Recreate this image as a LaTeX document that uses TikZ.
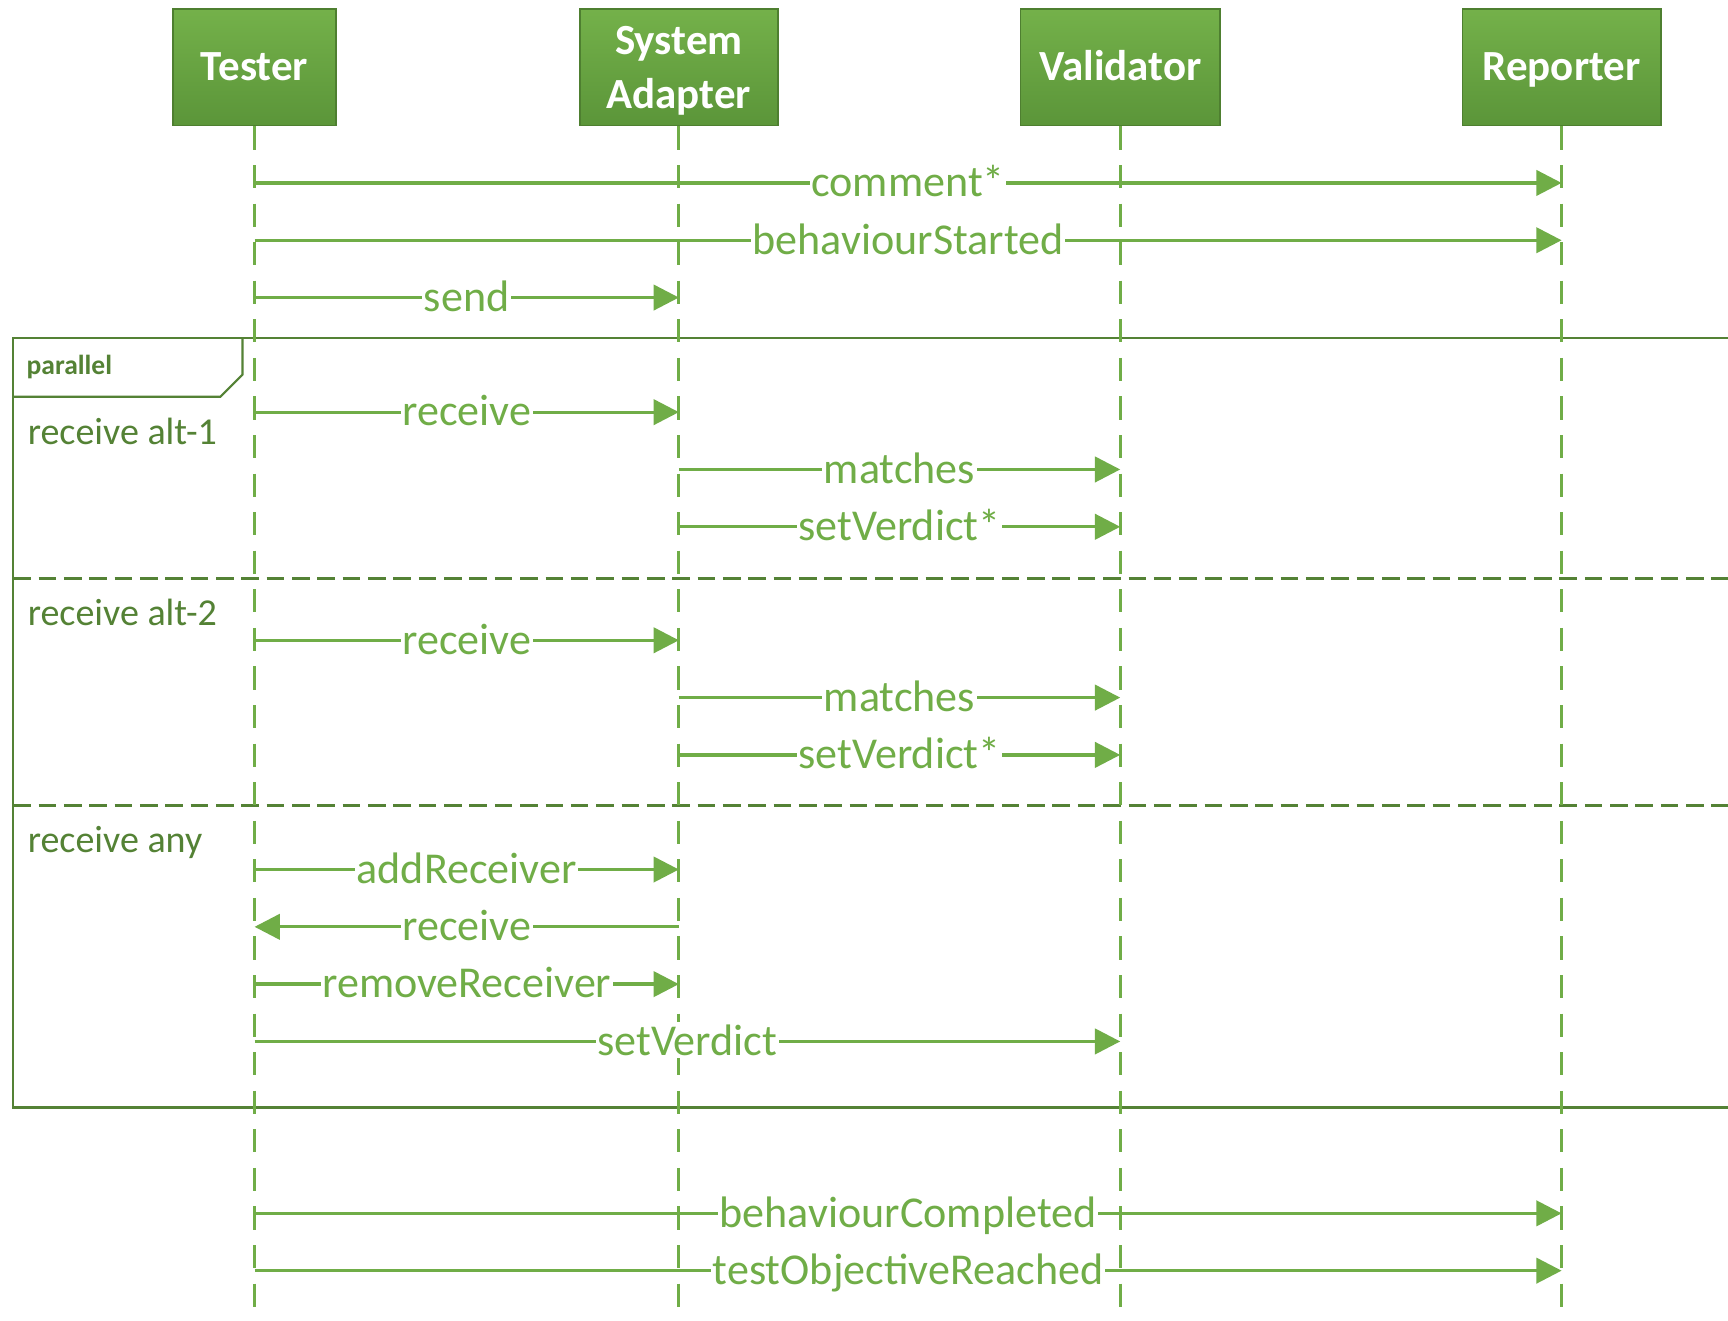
\documentclass[tikz,border=0pt]{standalone}
\usepackage{fontspec}
\setmainfont{Carlito}
\usetikzlibrary{arrows.meta}
\definecolor{msgc}{HTML}{70AD47}
\definecolor{framec}{HTML}{548235}
\definecolor{hdrA}{HTML}{74B14A}
\definecolor{hdrB}{HTML}{5B9539}
\definecolor{hdrline}{HTML}{4E7F30}
\begin{document}
\begin{tikzpicture}[x=1pt,y=-1pt,
  hdrbase/.style={draw=hdrline, line width=1.5pt, top color=hdrA, bottom color=hdrB,
    minimum height=106pt, inner sep=0pt, text=white,
    font=\fontsize{39}{49}\selectfont\bfseries, align=center},
  hdr/.style={hdrbase, text height=25pt, text depth=0pt},
  life/.style={draw=msgc, line width=2.5pt, dash pattern=on 21pt off 14pt},
  msg/.style={draw=msgc, line width=3pt, -{Triangle[length=23pt,width=23pt,fill=msgc]}},
  lbl/.style={midway, fill=white, text=msgc, inner xsep=1.5pt, inner ysep=2pt,
    anchor=base, yshift=-12.5pt, font=\fontsize{40}{48}\selectfont},
  frame/.style={draw=framec, line width=2pt},
  sep/.style={draw=framec, line width=2pt, dash pattern=on 16pt off 7pt},
  flbl/.style={text=framec, anchor=base west, inner sep=0pt, font=\fontsize{34.5}{40}\selectfont}
]
\useasboundingbox (0,0) rectangle (1568,1198);
\clip (0,0) rectangle (1568,1198);
\fill[white] (0,0) rectangle (1568,1198);

% combined fragment
\draw[frame] (12,307) rectangle (1590,1005);
\draw[frame] (12,360) -- (200,360) -- (220,340) -- (220,307);
\node[text=framec, anchor=base west, inner sep=0pt, font=\fontsize{25}{30}\selectfont\bfseries] (ptag) at (24,340) {parallel};
\coordinate (s1l) at (12,525); \coordinate (s1r) at (1590,525);
\coordinate (s2l) at (12,731); \coordinate (s2r) at (1590,731);
\draw[sep] (s1l) -- (s1r);
\draw[sep] (s2l) -- (s2r);
\node[flbl] (alt1) at (25,403) {receive alt-1};
\node[flbl] (alt2) at (25,568) {receive alt-2};
\node[flbl] (any) at (25,774) {receive any};

% lifeline heads
\node[hdr, minimum width=148pt] (te) at (231,61) {Tester};
\node[hdrbase, minimum width=180pt] (sa) at (616,61) {System\\\smash{Adapter}};
\node[hdr, minimum width=181pt] (val) at (1016.5,61) {Validator};
\node[hdr, minimum width=180pt] (rep) at (1417,61) {Reporter};

% lifelines
\coordinate (teE) at (231,1200);
\coordinate (saE) at (616,1200);
\coordinate (valE) at (1016.5,1200);
\coordinate (repE) at (1417,1200);
\draw[life] (te.south) -- (teE);
\draw[life] (sa.south) -- (saE);
\draw[life] (val.south) -- (valE);
\draw[life] (rep.south) -- (repE);

% messages
\foreach \y/\a/\b/\t in {166/te/rep/comment*, 218/te/rep/behaviourStarted, 270/te/sa/send,
  374/te/sa/receive, 426/sa/val/matches, 478/sa/val/setVerdict*,
  581/te/sa/receive, 633/sa/val/matches, 685/sa/val/setVerdict*,
  789/te/sa/addReceiver, 841/sa/te/receive, 893/te/sa/removeReceiver, 945/te/val/setVerdict,
  1101/te/rep/behaviourCompleted, 1153/te/rep/testObjectiveReached}
{
  \coordinate (Y) at (0,\y);
  \draw[msg] (\a |- Y) -- node[lbl]{\t} (\b |- Y);
}
\end{tikzpicture}
\end{document}
